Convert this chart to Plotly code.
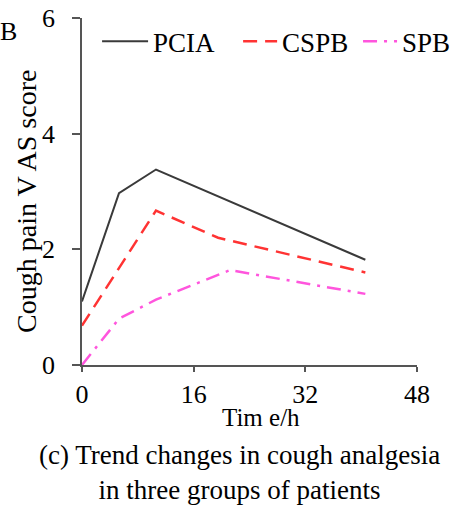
import plotly.graph_objects as go

# Data
pcia_x = [0, 5.3, 10.6, 40.6]
pcia_y = [1.1, 2.97, 3.38, 1.82]
cspb_x = [0, 10.6, 19.5, 40.6]
cspb_y = [0.68, 2.67, 2.2, 1.6]
spb_x = [0, 5.3, 10.6, 21.2, 40.6]
spb_y = [0.0, 0.8, 1.13, 1.64, 1.23]
x_ticks = [0, 16, 32, 48]
y_ticks = [0, 2, 4, 6]

FONT = "Liberation Serif"
PAD = "\u00a0\u2009"  # keeps y tick labels clear of the tick marks

fig = go.Figure()
fig.add_trace(go.Scatter(x=pcia_x, y=pcia_y, mode="lines", name="PCIA", legend="legend",
                         line=dict(color="#3a3a3a", width=2)))
fig.add_trace(go.Scatter(x=cspb_x, y=cspb_y, mode="lines", name="CSPB", legend="legend2",
                         line=dict(color="#ff3333", width=2.5, dash="14px,8px")))
fig.add_trace(go.Scatter(x=spb_x, y=spb_y, mode="lines", name="SPB", legend="legend3",
                         line=dict(color="#ff55dd", width=2.5, dash="14px,7px,3px,7px")))

leg_common = dict(orientation="h", y=0.932, xanchor="left", yanchor="middle",
                  font=dict(family=FONT, size=27, color="black"),
                  bgcolor="rgba(0,0,0,0)")

fig.update_layout(
    width=456, height=506,
    margin=dict(l=82, r=39, t=18, b=141, autoexpand=False),
    plot_bgcolor="white", paper_bgcolor="white",
    font=dict(family=FONT, size=24, color="black"),
    showlegend=True,
    legend=dict(x=0.045, itemwidth=46, **leg_common),
    legend2=dict(x=0.466, itemwidth=34, **leg_common),
    legend3=dict(x=0.824, itemwidth=34, **leg_common),
    xaxis=dict(range=[0, 48], tickvals=x_ticks, ticks="outside", ticklen=5,
               tickwidth=2, tickcolor="#555",
               showline=True, linecolor="#555", linewidth=2,
               showgrid=False, zeroline=False,
               tickfont=dict(family=FONT, size=26, color="black")),
    yaxis=dict(range=[0, 6], tickvals=y_ticks, ticktext=[f"{v}{PAD}" for v in y_ticks],
               ticks="outside", ticklen=8, tickwidth=2, tickcolor="#555",
               showline=True, linecolor="#555", linewidth=2,
               showgrid=False, zeroline=False,
               tickfont=dict(family=FONT, size=26, color="black")),
)

fig.add_annotation(text="Cough pain V AS score", xref="paper", yref="paper",
                   x=-0.164, y=0.47, xanchor="center", yanchor="middle", textangle=-90,
                   showarrow=False, font=dict(family=FONT, size=28, color="black"))
fig.add_annotation(text="Tim e/h", xref="paper", yref="paper", x=0.534, y=-0.152,
                   xanchor="center", yanchor="middle", showarrow=False,
                   font=dict(family=FONT, size=25, color="black"))
fig.add_annotation(text="(c) Trend changes in cough analgesia<br>in three groups of patients",
                   xref="paper", yref="paper", x=0.47, y=-0.21, xanchor="center", yanchor="top",
                   showarrow=False, font=dict(family=FONT, size=27, color="black"))
fig.add_annotation(text="B", xref="paper", yref="paper", x=-0.25, y=0.96,
                   xanchor="left", yanchor="middle", showarrow=False,
                   font=dict(family=FONT, size=26, color="black"))

fig.write_html("out.html")
